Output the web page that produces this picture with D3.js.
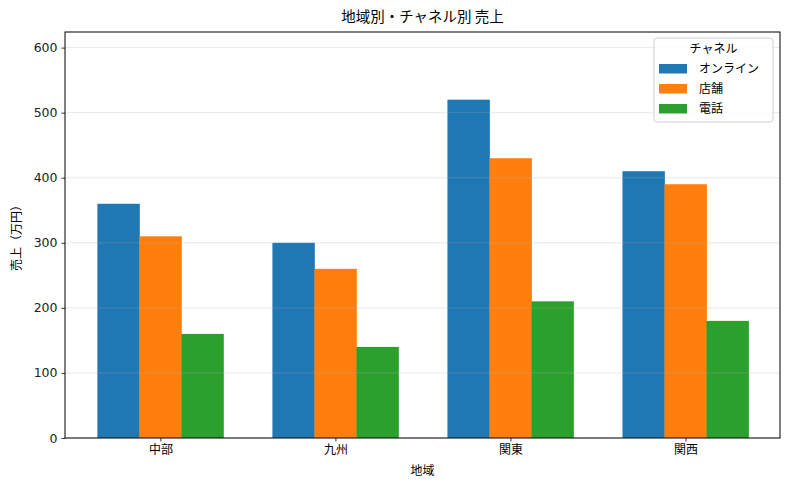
<!DOCTYPE html>
<html>
<head>
<meta charset="utf-8">
<script src="https://cdn.jsdelivr.net/npm/d3@7"></script>
<style>
  body { margin: 0; background: #fff; }
  text { font-family: "DejaVu Sans", "Noto Sans CJK JP", sans-serif; fill: #000; }
  .jp { font-family: "Noto Sans CJK JP", sans-serif; }
</style>
</head>
<body>
<div id="chart"></div>
<script>
// Data
var regions = ["中部", "九州", "関東", "関西"];
var channels = ["オンライン", "店舗", "電話"];
var online = [360, 300, 520, 410];
var store = [310, 260, 430, 390];
var phone = [160, 140, 210, 180];
var yTicks = [0, 100, 200, 300, 400, 500, 600];

var series = [online, store, phone];
var colors = ["#1f77b4", "#ff7f0e", "#2ca02c"];

var W = 790, H = 490;
var margin = { top: 32, right: 10, bottom: 52, left: 65 },
    width = W - margin.left - margin.right,
    height = H - margin.top - margin.bottom;

var barW = 0.24;

// Scales
var x = d3.scaleLinear().domain([-0.545, 3.54]).range([0, width]);
var y = d3.scaleLinear().domain([0, 624]).range([height, 0]);

var svg = d3.select("#chart").append("svg")
    .attr("width", W)
    .attr("height", H);

var g = svg.append("g")
    .attr("transform", "translate(" + margin.left + "," + margin.top + ")");

// Bars
series.forEach(function (vals, si) {
    g.selectAll(".bar" + si)
        .data(vals)
        .enter().append("rect")
        .attr("x", function (d, i) { return x(i + (si - 1) * barW - barW / 2); })
        .attr("width", x(barW) - x(0) + 0.4)
        .attr("y", function (d) { return y(d); })
        .attr("height", function (d) { return height - y(d); })
        .attr("fill", colors[si]);
});

// Grid on top of bars
g.selectAll(".grid")
    .data(yTicks)
    .enter().append("line")
    .attr("x1", 0).attr("x2", width)
    .attr("y1", function (d) { return y(d); })
    .attr("y2", function (d) { return y(d); })
    .attr("stroke", "#b0b0b0")
    .attr("stroke-opacity", 0.35)
    .attr("stroke-width", 0.8);

// Axes
var xAxis = g.append("g")
    .attr("transform", "translate(0," + height + ")")
    .call(d3.axisBottom(x).tickValues(d3.range(regions.length))
        .tickFormat(function (d) { return regions[d]; })
        .tickSize(3.5).tickPadding(4));
xAxis.selectAll("text").attr("class", "jp").style("font-size", "12px");

var yAxis = g.append("g")
    .call(d3.axisLeft(y).tickValues(yTicks).tickSize(3.5).tickPadding(4));
yAxis.selectAll("text").style("font-size", "12.5px").style("fill", "#222");

[xAxis, yAxis].forEach(function (a) {
    a.select(".domain").remove();
    a.selectAll(".tick line").attr("stroke", "#000").attr("stroke-width", 0.8);
});

// Frame
g.append("rect")
    .attr("width", width).attr("height", height)
    .attr("fill", "none").attr("stroke", "#000").attr("stroke-width", 1);

// Title and labels
svg.append("text")
    .attr("class", "jp")
    .attr("x", margin.left + width / 2)
    .attr("y", 22)
    .style("text-anchor", "middle")
    .style("font-size", "14.5px")
    .text("地域別・チャネル別 売上");

svg.append("text")
    .attr("class", "jp")
    .attr("x", margin.left + width / 2)
    .attr("y", 475)
    .style("text-anchor", "middle")
    .style("font-size", "12px")
    .text("地域");

svg.append("text")
    .attr("class", "jp")
    .attr("transform", "translate(21," + (margin.top + height / 2) + ") rotate(-90)")
    .style("text-anchor", "middle")
    .style("font-size", "12px")
    .text("売上（万円）");

// Legend
var lg = svg.append("g").attr("transform", "translate(654,38)");
lg.append("rect")
    .attr("width", 119).attr("height", 84)
    .attr("rx", 3)
    .attr("fill", "#fff").attr("fill-opacity", 0.8)
    .attr("stroke", "#d0d0d0");
lg.append("text")
    .attr("class", "jp")
    .attr("x", 59.5).attr("y", 15)
    .style("text-anchor", "middle")
    .style("font-size", "12px")
    .text("チャネル");
channels.forEach(function (c, i) {
    lg.append("rect")
        .attr("x", 5).attr("y", 26 + i * 20)
        .attr("width", 28).attr("height", 9.5)
        .attr("fill", colors[i]);
    lg.append("text")
        .attr("class", "jp")
        .attr("x", 45).attr("y", 35 + i * 20)
        .style("font-size", "12px")
        .text(c);
});
</script>
</body>
</html>
